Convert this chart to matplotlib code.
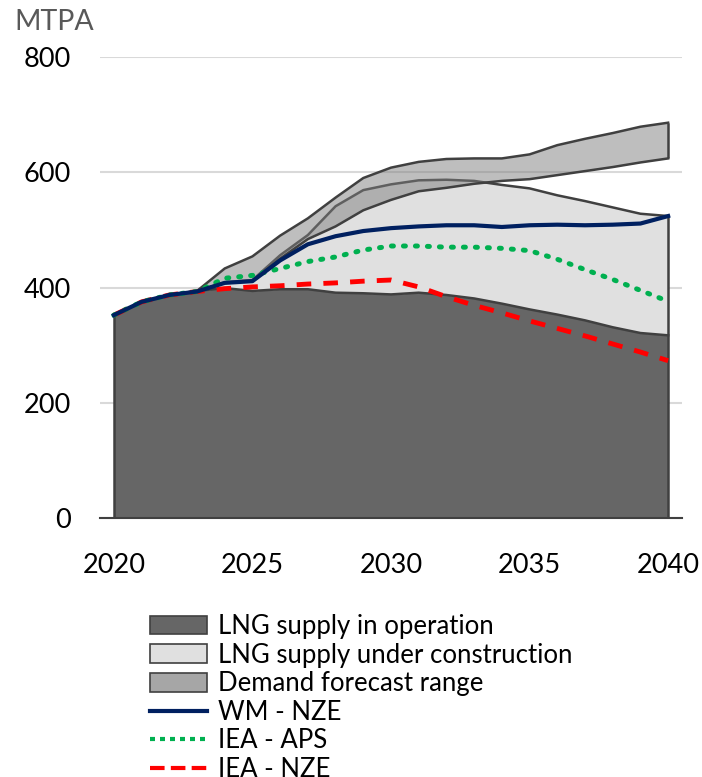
import matplotlib
matplotlib.use("Agg")
import matplotlib.pyplot as plt
from matplotlib.patches import Patch
from matplotlib.lines import Line2D
import numpy as np

years = list(range(2020, 2041))

# LNG supply in operation (MTPA)
supply_operation = [352, 375, 387, 394, 399, 394, 397, 397, 391, 390, 388,
                    391, 387, 381, 372, 362, 353, 343, 331, 321, 317]
# total supply incl. under construction (MTPA)
supply_total = [352, 375, 387, 394, 409, 413, 456, 491, 541, 569, 579,
                586, 587, 585, 578, 572, 560, 550, 539, 528, 524]
# demand forecast range, from 2023
demand_years = list(range(2023, 2041))
demand_low = [394, 408, 411, 450, 484, 506, 534, 552, 567, 573, 580,
              585, 588, 595, 602, 609, 617, 624]
demand_high = [394, 433, 454, 490, 520, 556, 590, 608, 618, 623, 624,
               624, 631, 647, 658, 668, 679, 686]

wm_nze = [352, 375, 387, 393, 408, 411, 447, 475, 489, 498, 503,
          506, 508, 508, 505, 508, 509, 508, 509, 511, 524]
iea_aps = [352, 375, 387, 393, 416, 421, 433, 445, 453, 465, 472,
           472, 470, 470, 468, 464, 449, 431, 414, 395, 376]
iea_nze = [352, 375, 387, 393, 398, 401, 403, 406, 408, 411, 413,
           401, 384, 369, 356, 342, 329, 316, 302, 288, 273]

plt.rcParams['font.family'] = ['Lato', 'DejaVu Sans']

fig = plt.figure(figsize=(7.02, 7.77), dpi=100)
ax = fig.add_axes([100 / 702, 1 - 518 / 777, 582 / 702, 461 / 777])

edge = '#404040'
ax.fill_between(years, 0, supply_operation, color='#666666', lw=0, zorder=2)
ax.fill_between(years, supply_operation, supply_total, color='#e0e0e0', lw=0, zorder=2)
ax.plot(years, supply_operation, color=edge, lw=1.8, zorder=3)
ax.plot(years, supply_total, color=edge, lw=1.8, zorder=3)
ax.vlines([2020], 0, supply_operation[0], color=edge, lw=1.8, zorder=3)
ax.vlines([2040], 0, supply_total[-1], color=edge, lw=1.8, zorder=3)

ax.fill_between(demand_years, demand_low, demand_high, color='#7f7f7f', alpha=0.5, lw=0, zorder=4)
ax.plot(demand_years, demand_low, color=edge, lw=1.8, zorder=4)
ax.plot(demand_years, demand_high, color=edge, lw=1.8, zorder=4)
ax.vlines([2040], demand_low[-1], demand_high[-1], color=edge, lw=1.8, zorder=4)

ax.plot(years, iea_nze, color='#ff0000', lw=3.5, ls=(0, (3, 2.5)), zorder=5)
ax.plot(years, iea_aps, color='#00b050', lw=3.6, ls=(0, (0.4, 2.0)), dash_capstyle='round', zorder=5)
ax.plot(years, wm_nze, color='#002060', lw=3, zorder=6)

ax.set_xlim(2019.5, 2040.5)
ax.set_ylim(0, 800)
ax.set_yticks([0, 200, 400, 600, 800])
ax.set_xticks([2020, 2025, 2030, 2035, 2040])
ax.yaxis.grid(True, color='#d9d9d9', lw=1.5, zorder=0)
ax.set_axisbelow(True)
for s in ['top', 'right', 'left']:
    ax.spines[s].set_visible(False)
ax.spines['bottom'].set_color('#404040')
ax.spines['bottom'].set_linewidth(1.5)
ax.spines['bottom'].set_zorder(7)
ax.tick_params(axis='both', length=0, labelsize=19.5, colors='black')
ax.tick_params(axis='y', pad=21)
ax.tick_params(axis='x', pad=25)

fig.text(14 / 702, 1 - 22 / 777, 'MTPA', fontsize=20.5, color='#595959', va='center', ha='left')

handles = [
    Patch(facecolor='#666666', edgecolor=edge, lw=1.2, label='LNG supply in operation'),
    Patch(facecolor='#e0e0e0', edgecolor=edge, lw=1.2, label='LNG supply under construction'),
    Patch(facecolor='#a6a6a6', edgecolor=edge, lw=1.2, label='Demand forecast range'),
    Line2D([], [], color='#002060', lw=3, label='WM - NZE'),
    Line2D([], [], color='#00b050', lw=3, ls=(0, (1.2, 1.2)), label='IEA - APS'),
    Line2D([], [], color='#ff0000', lw=3, ls=(0, (3.5, 1.5)), label='IEA - NZE'),
]
fig.legend(handles=handles, loc='upper left', bbox_to_anchor=(150 / 702, 1 - 614 / 777),
           frameon=False, fontsize=18.5, handlelength=2.2, handleheight=0.75,
           labelspacing=0.14, handletextpad=0.45, borderpad=0, borderaxespad=0)

fig.savefig('out.png', dpi=100)
